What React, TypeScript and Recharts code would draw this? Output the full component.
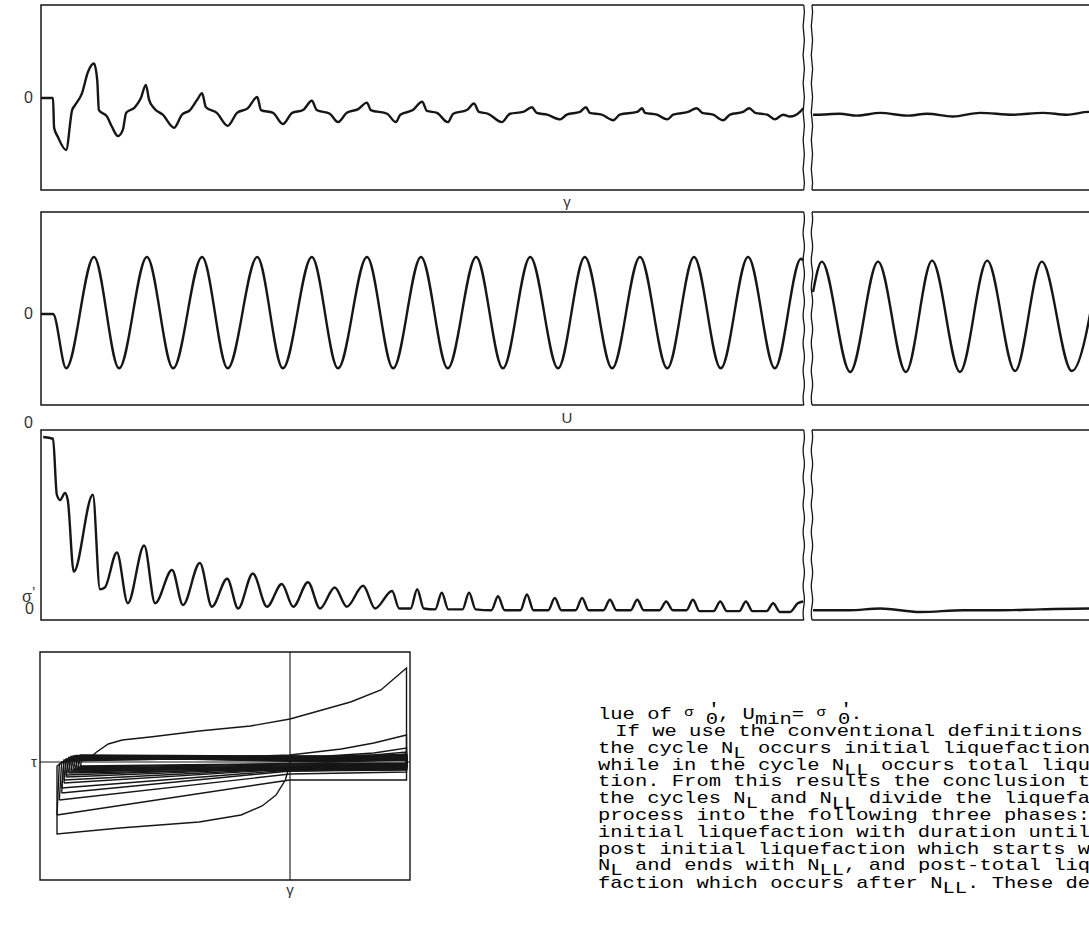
import React from "react";
import { LineChart, Line, XAxis, YAxis, ReferenceArea, ReferenceLine } from "recharts";

type Pt = [number, number | null];

// Records over the loading cycles N. Amplitudes are normalised to each strip.
// null = paper break between the early record and the late record.
const TAU: Pt[] = [
  [0, 0], [0.22, 0], [0.24, -0.32], [0.31, -0.42], [0.46, -0.56], [0.57, -0.13], [0.62, -0.08],
  [0.75, 0.05], [0.86, 0.28], [0.97, 0.37], [1.03, 0.19], [1.06, -0.13], [1.21, -0.2], [1.3, -0.31],
  [1.41, -0.41], [1.5, -0.34], [1.56, -0.16], [1.72, -0.1], [1.83, 0], [1.92, 0.14], [1.98, -0.02],
  [2.07, -0.11], [2.23, -0.18], [2.44, -0.32], [2.58, -0.18], [2.73, -0.13], [2.86, -0.02], [2.95, 0.05],
  [3.02, -0.1], [3.22, -0.16], [3.42, -0.3], [3.59, -0.16], [3.79, -0.11], [3.96, 0.01], [4.03, -0.13],
  [4.25, -0.16], [4.43, -0.28], [4.6, -0.16], [4.8, -0.13], [4.96, -0.03], [5.05, -0.13], [5.29, -0.17],
  [5.44, -0.26], [5.6, -0.16], [5.81, -0.12], [5.97, -0.05], [6.04, -0.13], [6.34, -0.17], [6.5, -0.26],
  [6.58, -0.18], [6.81, -0.13], [6.98, -0.04], [7.07, -0.14], [7.25, -0.16], [7.45, -0.26], [7.55, -0.17],
  [7.8, -0.13], [7.93, -0.06], [8.02, -0.15], [8.19, -0.17], [8.44, -0.26], [8.59, -0.17], [8.83, -0.15],
  [8.99, -0.1], [9.08, -0.16], [9.27, -0.18], [9.51, -0.23], [9.63, -0.18], [9.87, -0.15], [9.98, -0.1],
  [10.05, -0.16], [10.27, -0.18], [10.48, -0.24], [10.6, -0.18], [10.92, -0.15], [11.01, -0.11],
  [11.06, -0.16], [11.28, -0.18], [11.47, -0.23], [11.58, -0.18], [11.85, -0.15], [12.01, -0.11],
  [12.11, -0.16], [12.31, -0.18], [12.49, -0.24], [12.62, -0.18], [12.86, -0.15], [12.97, -0.11],
  [13.08, -0.16], [13.3, -0.18], [13.44, -0.23], [13.59, -0.18], [13.72, -0.2], [13.9, -0.15], [13.96, -0.11],
  [14.05, null],
  [14.14, -0.18], [14.21, -0.18], [14.63, -0.17], [14.95, -0.19], [15.37, -0.16], [15.86, -0.19],
  [16.23, -0.17], [16.7, -0.2], [17.2, -0.16], [17.8, -0.18], [18.35, -0.16], [18.79, -0.18],
  [19.19, -0.15], [19.78, -0.17],
];

const GAMMA: Pt[] = [
  [0, 0], [0.22, 0], [0.46, -0.59], [0.97, 0.62], [1.43, -0.59], [1.94, 0.62], [2.42, -0.59],
  [2.95, 0.62], [3.42, -0.59], [3.96, 0.62], [4.43, -0.59], [4.96, 0.62], [5.44, -0.59], [5.97, 0.62],
  [6.45, -0.59], [6.96, 0.62], [7.45, -0.59], [7.97, 0.62], [8.46, -0.59], [8.96, 0.62], [9.47, -0.59],
  [9.96, 0.62], [10.46, -0.59], [10.97, 0.62], [11.47, -0.59], [11.96, 0.62], [12.45, -0.59],
  [12.95, 0.62], [13.44, -0.59], [13.92, 0.6], [13.96, 0.58],
  [14.05, null],
  [14.14, 0.24], [14.3, 0.57], [14.82, -0.63], [15.33, 0.57], [15.84, -0.63], [16.32, 0.58],
  [16.83, -0.63], [17.33, 0.58], [17.84, -0.62], [18.33, 0.57], [18.88, -0.62], [19.38, 0.57],
];

// pore pressure ratio u / sigma'0 (0 at top, 1 at bottom of the strip)
const PORE: Pt[] = [
  [0.04, 0], [0.22, 0.01], [0.29, 0.33], [0.35, 0.36], [0.44, 0.32], [0.49, 0.36], [0.6, 0.77],
  [0.95, 0.33], [1.08, 0.87], [1.17, 0.86], [1.39, 0.66], [1.59, 0.95], [1.89, 0.62], [2.09, 0.95],
  [2.4, 0.76], [2.6, 0.96], [2.91, 0.72], [3.13, 0.97], [3.41, 0.81], [3.61, 0.98], [3.88, 0.78],
  [4.14, 0.97], [4.41, 0.84], [4.62, 0.97], [4.89, 0.83], [5.11, 0.98], [5.38, 0.86], [5.6, 0.97],
  [5.9, 0.85], [6.12, 0.98], [6.43, 0.88], [6.56, 0.98],
  [6.77, 0.98], [6.89, 0.87], [7.01, 0.98],
  [7.22, 0.985], [7.34, 0.89], [7.46, 0.985],
  [7.72, 0.985], [7.84, 0.89], [7.96, 0.985],
  [8.25, 0.99], [8.37, 0.91], [8.49, 0.99],
  [8.78, 0.99], [8.9, 0.9], [9.02, 0.99],
  [9.29, 0.99], [9.41, 0.92], [9.53, 0.99],
  [9.79, 0.99], [9.91, 0.92], [10.03, 0.99],
  [10.3, 0.99], [10.42, 0.93], [10.54, 0.99],
  [10.8, 0.99], [10.92, 0.93], [11.04, 0.99],
  [11.33, 0.99], [11.45, 0.94], [11.57, 0.99],
  [11.82, 0.99], [11.94, 0.93], [12.06, 0.995],
  [12.32, 0.995], [12.44, 0.94], [12.56, 0.995],
  [12.79, 0.995], [12.91, 0.94], [13.03, 0.995],
  [13.29, 0.995], [13.41, 0.95], [13.53, 1.0],
  [13.72, 1.0], [13.86, 0.95], [13.96, 0.94],
  [14.05, null],
  [14.14, 0.99], [14.8, 0.99], [15.37, 0.98], [16.1, 1.0], [16.9, 0.99], [17.56, 0.99],
  [18.3, 0.985], [19.19, 0.98], [19.78, 0.985],
];

// tau-gamma loops, one list per cycle: [gamma, tau]
const LOOPS: [number, number][][] = [
  [[0, 0], [-0.01, -0.1], [-0.02, -0.18], [-0.06, -0.33], [-0.12, -0.44], [-0.21, -0.53], [-0.39, -0.6],
   [-0.73, -0.66], [-1.0, -0.72], [-1.0, -0.04], [-0.97, 0.01], [-0.87, 0.02], [-0.83, 0.1], [-0.78, 0.18],
   [-0.72, 0.22], [-0.6, 0.25], [-0.39, 0.31], [-0.17, 0.36], [0, 0.43], [0.26, 0.6], [0.39, 0.72],
   [0.5, 0.94], [0.5, -0.18], [0, -0.18], [-0.06, -0.2], [-1.0, -0.53]],
  [[-1.0, -0.53], [-0.99, -0.02], [-0.95, 0.02], [-0.38, 0.04], [0, 0.07], [0.22, 0.13], [0.36, 0.19],
   [0.5, 0.27], [0.5, -0.1], [0, -0.12], [-0.99, -0.38]],
  [[-0.99, -0.38], [-0.98, 0.0], [-0.9, 0.03], [-0.3, 0.04], [0.16, 0.06], [0.36, 0.09], [0.5, 0.14],
   [0.5, -0.07], [0, -0.09], [-0.98, -0.31]],
  [[-0.98, -0.31], [-0.97, 0.01], [-0.5, 0.03], [0.16, 0.05], [0.36, 0.07], [0.5, 0.1], [0.5, -0.06],
   [0, -0.08], [-0.98, -0.26]],
  [[-0.98, -0.26], [-0.97, 0.02], [0.16, 0.04], [0.36, 0.055], [0.5, 0.08], [0.5, -0.05], [0, -0.07],
   [-0.97, -0.21]],
  [[-0.97, -0.21], [-0.96, 0.03], [0.16, 0.035], [0.5, 0.07], [0.5, -0.05], [0, -0.065], [-0.97, -0.18]],
  [[-0.97, -0.18], [-0.96, 0.03], [0.16, 0.03], [0.5, 0.06], [0.5, -0.045], [0, -0.06], [-0.96, -0.15]],
  [[-0.96, -0.15], [-0.95, 0.04], [0.16, 0.03], [0.5, 0.055], [0.5, -0.04], [0, -0.055], [-0.96, -0.13]],
  [[-0.96, -0.13], [-0.95, 0.045], [0.16, 0.025], [0.5, 0.05], [0.5, -0.06], [0, -0.07], [-0.95, -0.11]],
  [[-0.95, -0.11], [-0.94, 0.05], [0.16, 0.025], [0.5, 0.045], [0.5, -0.03], [0, -0.05], [-0.95, -0.1]],
  [[-0.95, -0.1], [-0.94, 0.055], [0.16, 0.02], [0.5, 0.04], [0.5, -0.055], [0, -0.065], [-0.94, -0.09]],
  [[-0.94, -0.09], [-0.93, 0.06], [0.16, 0.04], [0.5, 0.06], [0.5, -0.03], [0, -0.045], [-0.94, -0.08]],
  [[-0.94, -0.08], [-0.93, 0.05], [0.16, 0.015], [0.5, 0.035], [0.5, -0.05], [0, -0.06], [-0.93, -0.075]],
  [[-0.93, -0.075], [-0.92, 0.065], [0.16, 0.045], [0.5, 0.05], [0.5, -0.025], [0, -0.04], [-0.93, -0.07]],
  [[-0.93, -0.07], [-0.92, 0.045], [0.16, 0.01], [0.5, 0.03], [0.5, -0.07], [0, -0.075], [-0.92, -0.065]],
  [[-0.92, -0.065], [-0.91, 0.06], [0.16, 0.05], [0.5, 0.065], [0.5, -0.02], [0, -0.03], [-0.92, -0.06]],
  [[-0.92, -0.06], [-0.91, 0.055], [0.16, 0.005], [0.5, 0.025], [0.5, -0.075], [0, -0.085], [-0.91, -0.055]],
  [[-0.91, -0.055], [-0.9, 0.07], [0.16, 0.055], [0.5, 0.07], [0.5, -0.015], [0, -0.02], [-0.91, -0.05]],
  [[-0.91, -0.05], [-0.9, 0.05], [0.16, 0.0], [0.5, 0.02], [0.5, -0.08], [0, -0.09], [-0.9, -0.045]],
  [[-0.9, -0.045], [-0.89, 0.06], [0.16, 0.06], [0.5, 0.075], [0.5, -0.01], [0, -0.015], [-0.9, -0.04]],
];

const N_MAX = 19.78;
const BREAK_FROM = 13.97;
const BREAK_TO = 14.12;
const G_DOMAIN: [number, number] = [-1.073, 0.515];
const T_DOMAIN: [number, number] = [-1.18, 1.1];

const INK = "#161616";
const LABEL_FONT = "'Liberation Sans', Arial, sans-serif";
const TEXT_FONT = "'Liberation Mono', 'DejaVu Sans Mono', monospace";

const rows = (pts: Pt[]) => pts.map(([n, v]) => ({ n, v }));
const loopRows = (pts: [number, number][]) => pts.map(([g, t]) => ({ g, t }));

// wavy double line of the paper break
function BreakMark(props: any) {
  const { x, y, width, height } = props;
  const wavy = (x0: number) => {
    const steps = Math.max(2, Math.round(height / 14));
    const h = height / steps;
    let d = `M${x0},${y}`;
    for (let i = 1; i <= steps; i++) {
      const dx = i % 2 ? 1.3 : -1.3;
      d += ` Q${x0 + dx},${y + h * i - h / 2} ${x0},${y + h * i}`;
    }
    return d;
  };
  return (
    <g>
      <rect x={x} y={y - 1} width={width} height={height + 2} fill="#fff" />
      <path d={wavy(x)} fill="none" stroke={INK} strokeWidth={1.3} />
      <path d={wavy(x + width)} fill="none" stroke={INK} strokeWidth={1.3} />
    </g>
  );
}

function ZeroTick(props: any) {
  const { x, y, payload } = props;
  return (
    <text x={x} y={y} dy={5} textAnchor="end" fontSize={16} fill="#333" fontFamily={LABEL_FONT}>
      {payload.value === 0 ? "0" : ""}
    </text>
  );
}

function PoreTick(props: any) {
  const { x, y, payload } = props;
  if (payload.value === 0) {
    return (
      <text x={x} y={y} dy={-9} textAnchor="end" fontSize={16} fill="#333" fontFamily={LABEL_FONT}>0</text>
    );
  }
  return (
    <g fontFamily={LABEL_FONT} fill="#333">
      <text x={x - 11} y={y - 10} fontSize={16}>σ</text>
      <text x={x - 1} y={y - 15} fontSize={15}>’</text>
      <text x={x - 8} y={y + 2} fontSize={16}>0</text>
    </g>
  );
}

function AxisName(props: any) {
  const { viewBox, text, dy } = props;
  return (
    <text x={viewBox.x + viewBox.width * 0.487} y={viewBox.y + dy} textAnchor="middle" fontSize={15} fill="#333" fontFamily={LABEL_FONT}>
      {text}
    </text>
  );
}

function Strip(props: {
  data: Pt[];
  top: number;
  height: number;
  marginTop: number;
  axisHeight: number;
  domain: [number, number];
  reversed?: boolean;
  ticks: number[];
  tick: any;
  name?: string;
  nameDy?: number;
}) {
  const { data, top, height, marginTop, axisHeight, domain, reversed, ticks, tick, name, nameDy } = props;
  return (
    <div style={{ position: "absolute", left: 0, top }}>
      <LineChart width={1121} height={height} data={rows(data)} margin={{ top: marginTop, right: 0, bottom: 0, left: 0 }}>
        <XAxis
          dataKey="n"
          type="number"
          domain={[0, N_MAX]}
          allowDataOverflow
          tick={false}
          tickLine={false}
          axisLine={false}
          height={axisHeight}
          label={name ? <AxisName text={name} dy={nameDy} /> : undefined}
        />
        <YAxis
          type="number"
          domain={domain}
          allowDataOverflow
          reversed={reversed}
          ticks={ticks}
          width={41}
          axisLine={false}
          tickLine={false}
          tick={tick}
        />
        <ReferenceArea x1={0} x2={N_MAX} y1={domain[0]} y2={domain[1]} fill="none" stroke={INK} strokeWidth={1.5} />
        <Line type="monotone" dataKey="v" stroke={INK} strokeWidth={2.4} dot={false} isAnimationActive={false} />
        <ReferenceArea x1={BREAK_FROM} x2={BREAK_TO} y1={domain[0]} y2={domain[1]} shape={BreakMark} />
      </LineChart>
    </div>
  );
}

const Sub = ({ children }: { children: React.ReactNode }) => (
  <sub style={{ fontSize: "1em", verticalAlign: "-0.3em", lineHeight: 0 }}>{children}</sub>
);

const SigmaZero = () => (
  <span>
    <span style={{ fontSize: "0.75em", verticalAlign: "0.3em" }}>σ</span>{" "}
    <span style={{ position: "relative", display: "inline-block" }}>
      <span style={{ position: "absolute", left: "0.1em", top: "-0.3em" }}>'</span>
      <Sub>0</Sub>
    </span>
  </span>
);

export default function App() {
  return (
    <div style={{ position: "absolute", left: 0, top: 0, width: 1089, height: 947, overflow: "hidden", background: "#fff" }}>
      <Strip data={TAU} top={0} height={212} marginTop={5} axisHeight={22} domain={[-0.99, 1]} ticks={[0]} tick={<ZeroTick />} name="γ" nameDy={17} />
      <Strip data={GAMMA} top={207} height={218} marginTop={5} axisHeight={20} domain={[-0.989, 1.109]} ticks={[0]} tick={<ZeroTick />} name="U" nameDy={18} />
      <Strip data={PORE} top={410} height={214} marginTop={20} axisHeight={4} domain={[-0.04, 1.046]} reversed ticks={[0, 1]} tick={<PoreTick />} />

      <div style={{ position: "absolute", left: 0, top: 647 }}>
        <LineChart width={414} height={255} margin={{ top: 5, right: 4, bottom: 0, left: 0 }}>
          <XAxis
            dataKey="g"
            type="number"
            domain={G_DOMAIN}
            allowDataOverflow
            ticks={[0]}
            tickFormatter={() => "γ"}
            tickLine={false}
            tickSize={0}
            tickMargin={4}
            axisLine={false}
            height={22}
            tick={{ fontSize: 15, fill: "#333", fontFamily: LABEL_FONT }}
          />
          <YAxis
            type="number"
            domain={T_DOMAIN}
            allowDataOverflow
            ticks={[0]}
            tickFormatter={() => "τ"}
            width={40}
            tickLine={false}
            tickSize={0}
            tickMargin={3}
            axisLine={false}
            tick={{ fontSize: 15, fill: "#333", fontFamily: LABEL_FONT }}
          />
          <ReferenceArea x1={G_DOMAIN[0]} x2={G_DOMAIN[1]} y1={T_DOMAIN[0]} y2={T_DOMAIN[1]} fill="none" stroke={INK} strokeWidth={1.4} />
          <ReferenceLine x={0} stroke={INK} strokeWidth={1.1} />
          <ReferenceLine y={0} stroke={INK} strokeWidth={1.1} />
          {LOOPS.map((loop, i) => (
            <Line
              key={i}
              data={loopRows(loop)}
              dataKey="t"
              type="linear"
              stroke={INK}
              strokeWidth={1.4}
              dot={false}
              isAnimationActive={false}
            />
          ))}
        </LineChart>
      </div>

      <div
        style={{
          position: "absolute",
          left: 598,
          top: 703.5,
          fontFamily: TEXT_FONT,
          fontSize: 20.5,
          lineHeight: "21.1px",
          color: "#000",
          whiteSpace: "pre",
          transform: "scaleY(0.8)",
          transformOrigin: "0 0",
        }}
      >
        <div>lue of <SigmaZero />, U<Sub>min</Sub>= <SigmaZero />.</div>
        <div style={{ paddingLeft: 5 }}> If we use the conventional definitions</div>
        <div>the cycle N<Sub>L</Sub> occurs initial liquefaction</div>
        <div>while in the cycle N<Sub>LL</Sub> occurs total liqu</div>
        <div>tion. From this results the conclusion t</div>
        <div>the cycles N<Sub>L</Sub> and N<Sub>LL</Sub> divide the liquefac</div>
        <div>process into the following three phases:</div>
        <div>initial liquefaction with duration until</div>
        <div>post initial liquefaction which starts w</div>
        <div>N<Sub>L</Sub> and ends with N<Sub>LL</Sub>, and post-total liq</div>
        <div>faction which occurs after N<Sub>LL</Sub>. These de</div>
      </div>
    </div>
  );
}
